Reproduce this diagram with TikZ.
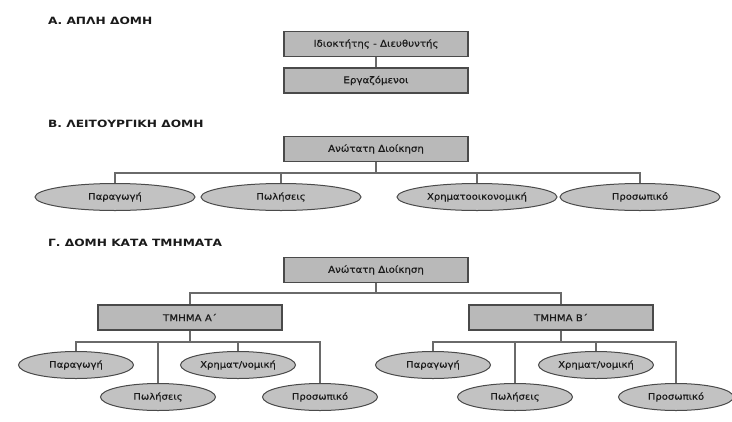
\documentclass[tikz,border=0pt]{standalone}
\usepackage{fontspec}
\setmainfont{DejaVu Sans}[FakeStretch=1.1, FakeBold=0.35]
\newfontfamily\ttlfont{DejaVu Sans}[FakeStretch=1.22, BoldFont={DejaVu Sans Bold}]
\usetikzlibrary{shapes.geometric}
\definecolor{boxfill}{HTML}{B9B9B9}
\definecolor{ellfill}{HTML}{C2C2C2}
\definecolor{edge}{HTML}{4A4A4A}
\definecolor{linec}{HTML}{6A6A6A}
\definecolor{txt}{HTML}{1A1A1A}
\begin{document}
\begin{tikzpicture}[x=1pt,y=-1pt,
  box/.style={draw=edge, fill=boxfill, line width=1.1pt, minimum width=184pt,
    minimum height=25pt, inner sep=0pt, text=txt, font=\fontsize{9.3}{10}\selectfont},
  ell/.style={ellipse, draw=edge, fill=ellfill, line width=1pt, inner sep=0pt,
    text=txt, font=\fontsize{9.1}{10}\selectfont},
  bigell/.style={ell, minimum width=160pt, minimum height=27pt},
  smallell/.style={ell, minimum width=115pt, minimum height=27pt},
  ttl/.style={anchor=west, inner sep=0pt, text=txt, font=\ttlfont\bfseries\fontsize{10}{11}\selectfont},
  conn/.style={draw=linec, line width=1.2pt}]
\useasboundingbox[fill=white] (0,0) rectangle (732,421);

% A
\node[ttl] (tA) at (48,21) {Α. ΑΠΛΗ ΔΟΜΗ};
\node[box] (own) at (376,44) {Ιδιοκτήτης - Διευθυντής};
\node[box] (emp) at (376,80.5) {Εργαζόμενοι};
\draw[conn] (own) -- (emp);

% B
\node[ttl] (tB) at (48,124) {Β. ΛΕΙΤΟΥΡΓΙΚΗ ΔΟΜΗ};
\node[box] (topB) at (376,149) {Ανώτατη Διοίκηση};
\node[bigell] (b1) at (115,197) {Παραγωγή};
\node[bigell] (b2) at (281,197) {Πωλήσεις};
\node[bigell] (b3) at (477,197) {Χρηματοοικονομική};
\node[bigell] (b4) at (640,197) {Προσωπικό};
\coordinate (busB) at (376,173);
\draw[conn] (topB.south) -- (busB);
\foreach \n in {b1,b2,b3,b4} \draw[conn] (busB) -| (\n.north);

% C
\node[ttl] (tC) at (48,243) {Γ. ΔΟΜΗ ΚΑΤΑ ΤΜΗΜΑΤΑ};
\node[box] (topC) at (376,270) {Ανώτατη Διοίκηση};
\node[box] (dA) at (190,317.5) {ΤΜΗΜΑ Α΄};
\node[box] (dB) at (561,317.5) {ΤΜΗΜΑ Β΄};
\coordinate (busC) at (376,293);
\draw[conn] (topC.south) -- (busC);
\draw[conn] (busC) -| (dA.north);
\draw[conn] (busC) -| (dB.north);

\node[smallell] (a1) at (76,365) {Παραγωγή};
\node[smallell] (a2) at (158,397) {Πωλήσεις};
\node[smallell] (a3) at (238,365) {Χρηματ/νομική};
\node[smallell] (a4) at (320,397) {Προσωπικό};
\coordinate (busA) at (190,342);
\draw[conn] (dA.south) -- (busA);
\foreach \n in {a1,a2,a3,a4} \draw[conn] (busA) -| (\n.north);

\node[smallell] (c1) at (433,365) {Παραγωγή};
\node[smallell] (c2) at (515,397) {Πωλήσεις};
\node[smallell] (c3) at (596,365) {Χρηματ/νομική};
\node[smallell] (c4) at (676,397) {Προσωπικό};
\coordinate (busD) at (561,342);
\draw[conn] (dB.south) -- (busD);
\foreach \n in {c1,c2,c3,c4} \draw[conn] (busD) -| (\n.north);
\end{tikzpicture}
\end{document}
